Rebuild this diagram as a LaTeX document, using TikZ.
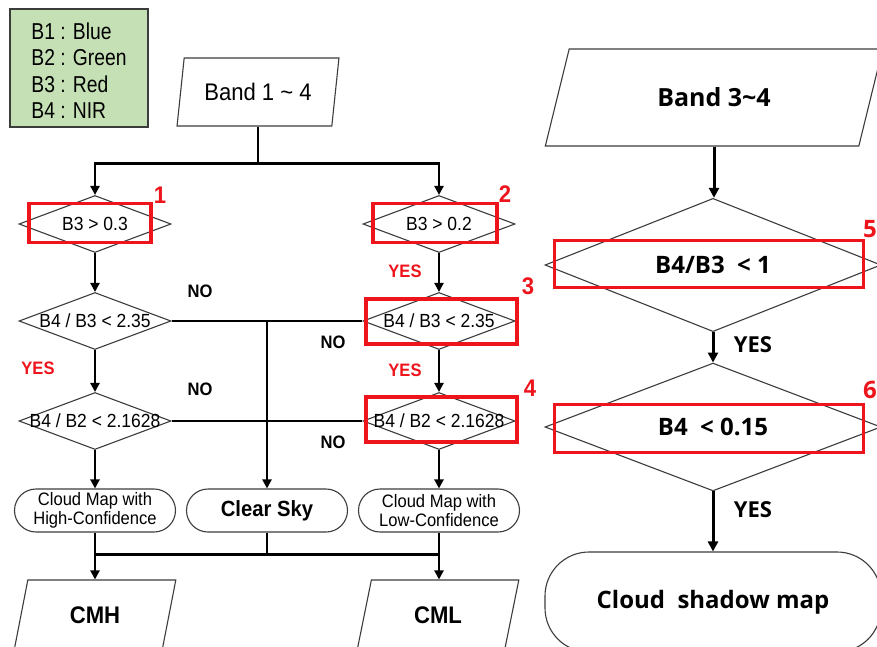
\documentclass[tikz,border=0pt]{standalone}
\usepackage{fontspec}
\setmainfont{Liberation Sans}[FakeStretch=0.92]
\newfontfamily\condfont{Liberation Sans}[FakeStretch=0.84]
\newfontfamily\rfont{Open Sans}
\usetikzlibrary{shapes.geometric,shapes.misc,arrows.meta}
\definecolor{redc}{RGB}{238,20,28}
\definecolor{legfill}{RGB}{197,224,180}
\definecolor{outl}{RGB}{60,60,60}
\newcommand{\myfs}[1]{\fontsize{#1pt}{#1pt}\selectfont}
\begin{document}
\begin{tikzpicture}[x=1pt,y=-1pt,
  shapeline/.style={draw=outl, line width=1.1pt, fill=white},
  dia/.style={shapeline, diamond, inner sep=0pt, minimum width=152pt, minimum height=57pt, font=\myfs{19}},
  bigdia/.style={shapeline, diamond, inner sep=0pt, minimum width=336pt, minimum height=84pt, font=\rfont\bfseries\myfs{24}},
  para/.style={shapeline, trapezium, trapezium stretches=true, inner sep=0pt},
  term/.style={shapeline, rounded rectangle, inner sep=0pt, minimum width=161pt, minimum height=43pt, align=center, font=\fontsize{18pt}{19pt}\selectfont},
  legend/.style={draw=outl, line width=1.5pt, fill=legfill, minimum width=138pt, minimum height=118pt, inner sep=0pt, font=\condfont\fontsize{23pt}{26.5pt}\selectfont},
  redbox/.style={draw=redc, line width=3.5pt},
  num/.style={text=redc, font=\bfseries\myfs{24}},
  nolab/.style={font=\bfseries\myfs{18}},
  yeslab/.style={text=redc, font=\bfseries\myfs{18}},
  ryes/.style={font=\rfont\bfseries\myfs{22}},
  conn/.style={line width=2.6pt, black},
  arr/.style={conn, -{Triangle[length=9pt,width=9pt]}},
  rarr/.style={line width=3pt, black, -{Triangle[length=10pt,width=10pt]}}
]
\useasboundingbox (0,0) rectangle (877,647);
\clip (0,0) rectangle (877,647);
\fill[white] (0,0) rectangle (877,647);

% legend
\node[legend] (leg) at (79,68) {\raisebox{-12pt}[0pt][0pt]{\begin{tabular}{@{}l@{}}B1 : Blue\\B2 : Green\\B3 : Red\\B4 : NIR\end{tabular}}};

% ---------- left flowchart ----------
\node[para, minimum width=162pt, minimum height=68pt, trapezium left angle=73.6, trapezium right angle=106.4, font=\myfs{24}] (band1) at (258,92) {Band 1 \textasciitilde{} 4};
\node[dia] (d1) at (95,224) {\makebox[0pt]{B3 > 0.3}};
\node[dia] (d2) at (439,224) {\makebox[0pt]{B3 > 0.2}};
\node[dia] (d3) at (95,321) {\makebox[0pt]{B4 / B3 < 2.35}};
\node[dia] (d3r) at (439,321) {\makebox[0pt]{B4 / B3 < 2.35}};
\node[dia] (d4) at (95,421) {\makebox[0pt]{B4 / B2 < 2.1628}};
\node[dia] (d4r) at (439,421) {\makebox[0pt]{B4 / B2 < 2.1628}};
\node[term] (t1) at (95,510.5) {Cloud Map with\\High-Confidence};
\node[term, font=\bfseries\myfs{22}] (tc) at (267,510.5) {Clear Sky};
\node[term] (t3) at (439,510.5) {Cloud Map with\\Low-Confidence};
\node[para, minimum width=162pt, minimum height=70pt, trapezium left angle=73.3, trapezium right angle=106.7, font=\bfseries\myfs{24}] (cmh) at (95,615) {CMH};
\node[para, minimum width=162pt, minimum height=70pt, trapezium left angle=73.3, trapezium right angle=106.7, font=\bfseries\myfs{24}] (cml) at (438,615) {CML};

% connectors
\path (band1.south) ++(0,37) coordinate (split);
\draw[conn] (band1.south) -- (split);
\draw[arr] (split) -| (d1.north);
\draw[arr] (split) -| (d2.north);
\draw[arr] (d1.south) -- (d3.north);
\draw[arr] (d3.south) -- (d4.north);
\draw[arr] (d4.south) -- (t1.north);
\draw[arr] (d2.south) -- (d3r.north);
\draw[arr] (d3r.south) -- (d4r.north);
\draw[arr] (d4r.south) -- (t3.north);
\draw[conn] (d3.east) -- (d3r.west);
\draw[conn] (d4.east) -- (d4r.west);
\coordinate (jn) at (tc.north |- d3.east);
\draw[arr] (jn) -- (tc.north);
\path (t1.south) ++(0,22) coordinate (bl);
\draw[conn] (bl) -- (bl -| t3.south);
\draw[conn] (tc.south) -- (tc.south |- bl);
\draw[arr] (t1.south) -- (t1.south |- cmh.north);
\draw[arr] (t3.south) -- (t3.south |- cml.north);

% labels
\node[nolab] (no1) at (200,291) {NO};
\node[nolab] (no2) at (333,342) {NO};
\node[nolab] (no3) at (200,389) {NO};
\node[nolab] (no4) at (333,442) {NO};
\node[yeslab] (yes1) at (405,271) {YES};
\node[yeslab] (yes2) at (38,368) {YES};
\node[yeslab] (yes3) at (405,370) {YES};

% red boxes
\node[redbox, minimum width=122pt, minimum height=39pt] (r1) at (90,223) {};
\node[redbox, minimum width=124pt, minimum height=39pt] (r2) at (435,223) {};
\node[redbox, minimum width=151pt, minimum height=45pt] (r3) at (441.5,321.5) {};
\node[redbox, minimum width=151pt, minimum height=45pt] (r4) at (441.5,419.5) {};
\node[num] (n1) at (160,195) {1};
\node[num] (n2) at (505,194) {2};
\node[num] (n3) at (528,286) {3};
\node[num] (n4) at (530,388) {4};

% ---------- right flowchart ----------
\node[para, minimum width=338pt, minimum height=97pt, trapezium left angle=64.1, trapezium right angle=115.9, font=\rfont\bfseries\myfs{25}] (band2) at (714,97.5) {Band 3\textasciitilde 4};
\node[bigdia] (d5) at (713,265) {B4/B3\ \ < 1};
\node[bigdia] (d6) at (713,427) {B4\ \ < 0.15};
\node[shapeline, rectangle, rounded corners=44pt, minimum width=336pt, minimum height=100pt, font=\rfont\bfseries\myfs{24}] (shadow) at (713,602) {Cloud\ \ shadow map};
\draw[rarr] (band2.south) -- (band2.south |- d5.north);
\draw[rarr] (d5.south) -- (d6.north);
\draw[rarr] (d6.south) -- (shadow.north);
\node[ryes] (yes5) at (753,345) {YES};
\node[ryes] (yes6) at (753,510) {YES};
\node[redbox, minimum width=309pt, minimum height=47pt] (r5) at (709,264) {};
\node[redbox, minimum width=309pt, minimum height=48pt] (r6) at (709,428.5) {};
\node[num, font=\rfont\bfseries\myfs{24}] (n5) at (870,229) {5};
\node[num, font=\rfont\bfseries\myfs{24}] (n6) at (870,390) {6};
\end{tikzpicture}
\end{document}
